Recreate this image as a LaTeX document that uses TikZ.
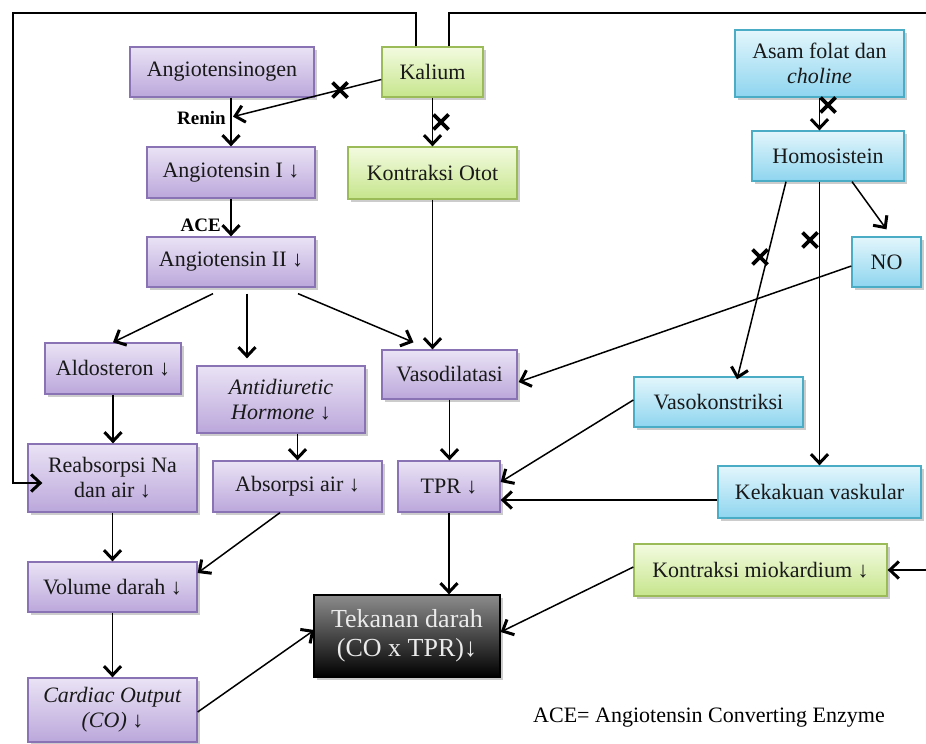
\documentclass[tikz,border=0pt]{standalone}
\usepackage{fontspec}
\setmainfont{Liberation Serif}
\usetikzlibrary{arrows.meta,shadows,calc}
\definecolor{pTop}{HTML}{EAE3F5}
\definecolor{pBot}{HTML}{BBA7DB}
\definecolor{pBord}{HTML}{8A73B5}
\definecolor{gTop}{HTML}{F3FBE0}
\definecolor{gBot}{HTML}{C6E58C}
\definecolor{gBord}{HTML}{9BBB59}
\definecolor{bTop}{HTML}{E3F6FC}
\definecolor{bBot}{HTML}{8ED5EF}
\definecolor{bBord}{HTML}{4BACC6}
\definecolor{kTop}{HTML}{8C8C8C}
\begin{document}
\begin{tikzpicture}[x=1pt,y=-1pt,
  box/.style={rectangle, line width=1.3pt, align=center, inner sep=2pt,
    font=\fontsize{22}{25}\selectfont, text=black!90,
    drop shadow={shadow xshift=2.5pt,shadow yshift=-2.5pt,opacity=0.4}},
  pbox/.style={box, draw=pBord, top color=pTop, bottom color=pBot},
  gbox/.style={box, draw=gBord, top color=gTop, bottom color=gBot},
  bbox/.style={box, draw=bBord, top color=bTop, bottom color=bBot},
  kbox/.style={box, draw=black, top color=kTop, bottom color=black, text=white!92!black,
    font=\fontsize{26}{29}\selectfont},
  conn/.style={line width=1.5pt, -{Straight Barb[length=9pt,width=17pt,line width=3pt]}},
  plain/.style={line width=1.5pt},
  crossline/.style={line width=3.8pt},
  lbl/.style={font=\fontsize{19}{22}\selectfont\bfseries, inner sep=0pt}
]
\useasboundingbox (0,0) rectangle (926,744);

% nodes
\node[pbox, minimum width=184pt, minimum height=50pt] (ang0) at (222,72) {Angiotensinogen};
\node[gbox, minimum width=101pt, minimum height=50pt] (kal) at (432.5,72) {Kalium};
\node[pbox, minimum width=168pt, minimum height=51pt] (ang1) at (231,172.5) {Angiotensin I ↓};
\node[pbox, minimum width=168pt, minimum height=50pt] (ang2) at (231,262) {Angiotensin II ↓};
\node[gbox, minimum width=169pt, minimum height=52pt] (otot) at (432.5,173) {Kontraksi Otot};
\node[bbox, minimum width=169pt, minimum height=67pt] (asam) at (819.5,63.5) {Asam folat dan\\\textit{choline}};
\node[bbox, minimum width=152pt, minimum height=50pt] (homo) at (828,156) {Homosistein};
\node[bbox, minimum width=69pt, minimum height=50pt] (no) at (886.5,262) {NO};
\node[pbox, minimum width=136pt, minimum height=51pt] (ald) at (113,368.5) {Aldosteron ↓};
\node[pbox, minimum width=168pt, minimum height=67pt] (adh) at (281,399.5) {\textit{Antidiuretic}\\\textit{Hormone} ↓};
\node[pbox, minimum width=135pt, minimum height=49pt] (vd) at (449.5,374.5) {Vasodilatasi};
\node[bbox, minimum width=169pt, minimum height=50pt] (vk) at (718.5,402) {Vasokonstriksi};
\node[pbox, minimum width=169pt, minimum height=68pt] (reab) at (112.5,478) {Reabsorpsi Na\\dan air ↓};
\node[pbox, minimum width=169pt, minimum height=51pt] (abs) at (297.5,486.5) {Absorpsi air ↓};
\node[pbox, minimum width=102pt, minimum height=51pt] (tpr) at (449,486.5) {TPR ↓};
\node[bbox, minimum width=203pt, minimum height=52pt] (kek) at (819.5,492) {Kekakuan vaskular};
\node[pbox, minimum width=169pt, minimum height=50pt] (vol) at (112.5,587) {Volume darah ↓};
\node[pbox, minimum width=169pt, minimum height=64pt] (co) at (112.5,710) {\textit{Cardiac Output}\\\textit{(CO)} ↓};
\node[gbox, minimum width=253pt, minimum height=52pt] (km) at (760.5,570) {Kontraksi miokardium ↓};
\node[kbox, minimum width=186pt, minimum height=82pt] (tek) at (407,636) {Tekanan darah\\(CO x TPR)↓};
\node[font=\fontsize{22}{25}\selectfont, inner sep=0pt] (legend) at (709,718) {ACE= Angiotensin Converting Enzyme};

% labels
\node[lbl, anchor=east] (renin) at (226,118) {Renin};
\node[lbl, anchor=east] (acel) at (221,225) {ACE};

% connectors
\coordinate (renpt) at ($(ang1.north |- ang0.south)+(2,19)$);
\draw[conn] (ang1.north |- ang0.south) -- (ang1.north);
\draw[conn] ($(kal.west)+(0,7.5)$) -- (renpt);
\draw[conn] (kal.south) -- (otot.north);
\draw[conn] (ang1.south) -- (ang2.north);
\draw[conn] ($(ang2.south)+(-18,6)$) -- (ald.north);
\draw[conn] ($(ang2.south)+(16,6)$) -- ($(adh.north)+(-34,-7)$);
\draw[conn] ($(ang2.south)+(67,6)$) -- ($(vd.north)+(-36,-7)$);
\draw[conn] (otot.south) -- (otot.south |- vd.north);
\draw[conn] (ald.south) -- (ald.south |- reab.north);
\draw[conn] (abs.north |- adh.south) -- (abs.north);
\draw[conn] (vd.south) -- (vd.south |- tpr.north);
\draw[conn] ($(kal.north)+(-16.5,0)$) |- (13,13) |- ($(reab.west)+(15,5)$);
\coordinate (frameR) at (926,13);
\draw[plain] ($(kal.north)+(16.5,0)$) |- (frameR);
\draw[conn] (asam.south) -- (asam.south |- homo.north);
\draw[conn] ($(homo.south)+(24,0)$) -- ($(no.north)+(0,-7)$);
\draw[conn] ($(homo.south)+(-42,0)$) -- ($(vk.north)+(18.5,3)$);
\draw[conn] (kek.north |- homo.south) -- (kek.north);
\draw[conn] ($(no.west)+(0,4)$) -- ($(vd.east)+(1,7.5)$);
\draw[conn] ($(vk.west)+(0,-2)$) -- ($(tpr.east)+(0,-4.5)$);
\draw[conn] ($(kek.west)+(0,8)$) -- ($(tpr.east)+(0,13.5)$);
\draw[conn] (reab.south) -- (reab.south |- vol.north);
\draw[conn] ($(abs.south)+(-17.5,0)$) -- ($(vol.east)+(0,-14)$);
\draw[conn] (vol.south) -- (vol.south |- co.north);
\draw[conn] (tpr.south) -- (tpr.south |- tek.north);
\draw[conn] ($(co.east)+(0,2)$) -- ($(tek.west)+(1,-6)$);
\draw[conn] ($(km.west)+(0,-3)$) -- ($(tek.east)+(0,-4)$);
\coordinate (rightin) at (926,570);
\draw[conn] (rightin) -- (km.east);

% crosses
\draw[crossline] (340,90) ++(-7.5,-7.5) -- ++(15,15) ++(0,-15) -- ++(-15,15);
\draw[crossline] (441,122) ++(-7.5,-7.5) -- ++(15,15) ++(0,-15) -- ++(-15,15);
\draw[crossline] (828,105) ++(-7.5,-7.5) -- ++(15,15) ++(0,-15) -- ++(-15,15);
\draw[crossline] (760,257) ++(-7.5,-7.5) -- ++(15,15) ++(0,-15) -- ++(-15,15);
\draw[crossline] (810,240) ++(-7.5,-7.5) -- ++(15,15) ++(0,-15) -- ++(-15,15);
\end{tikzpicture}
\end{document}
